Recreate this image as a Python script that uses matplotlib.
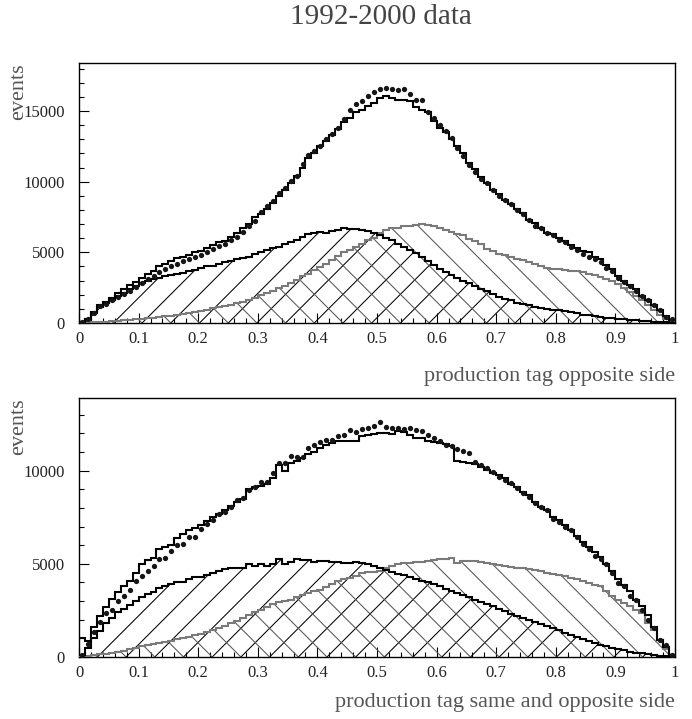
import numpy as np
import matplotlib
matplotlib.use("Agg")
import matplotlib.pyplot as plt
from matplotlib.collections import LineCollection
from matplotlib.ticker import MultipleLocator, FixedLocator, FixedFormatter

# ---------------- data (100 bins between 0 and 1) ----------------
bin_edges = np.linspace(0.0, 1.0, 101)

top_total = [50, 300, 800, 1300, 1500, 1800, 2100, 2400, 2700, 2900,
             3200, 3500, 3700, 4000, 4200, 4400, 4600, 4700, 4800, 5000,
             5100, 5300, 5500, 5700, 5800, 6100, 6400, 6700, 7000, 7500,
             7700, 8100, 8500, 9000, 9400, 9900, 10400, 11000, 11700, 12000,
             12500, 12900, 13300, 13700, 14200, 14500, 14900, 15100, 15350, 15600,
             15900, 16100, 15900, 15800, 15800, 15700, 15300, 15100, 14900, 14300,
             13800, 13500, 13000, 12500, 12000, 11300, 10900, 10300, 9900, 9400,
             9100, 8700, 8400, 8100, 7800, 7300, 7100, 6700, 6400, 6300,
             6000, 5800, 5550, 5300, 5100, 5000, 4700, 4500, 4100, 3800,
             3300, 3000, 2700, 2400, 1900, 1650, 1300, 950, 470, 200]

top_data = [60, 280, 700, 1180, 1370, 1600, 1840, 2050, 2300, 2550,
            2830, 3100, 3350, 3600, 3830, 4000, 4200, 4370, 4530, 4680,
            4840, 5000, 5240, 5430, 5620, 5900, 6100, 6420, 6900, 7200,
            7840, 8270, 8620, 9200, 9560, 10040, 10390, 11220, 11860, 12160,
            12500, 13040, 13350, 13820, 14450, 15070, 15470, 15700, 16060, 16350,
            16530, 16650, 16580, 16490, 16530, 16180, 15780, 15780, 14900, 14500,
            14000, 13600, 13100, 12400, 11800, 11200, 10700, 10200, 9900, 9400,
            9000, 8700, 8400, 8000, 7700, 7300, 6900, 6700, 6400, 6200,
            5900, 5700, 5400, 5200, 4900, 4700, 4500, 4300, 3900, 3700,
            3200, 2900, 2600, 2300, 1900, 1600, 1300, 900, 400, 250]

top_black = [50, 300, 700, 1100, 1400, 1650, 1900, 2150, 2400, 2600,
             2800, 2950, 3100, 3200, 3300, 3400, 3500, 3550, 3650, 3750,
             3900, 4000, 4050, 4150, 4300, 4400, 4500, 4600, 4700, 4900,
             5050, 5150, 5300, 5400, 5600, 5750, 5900, 6100, 6300, 6400,
             6450, 6350, 6500, 6600, 6700, 6650, 6680, 6600, 6500, 6350,
             6200, 6050, 5850, 5600, 5400, 5150, 4950, 4700, 4400, 4100,
             3850, 3600, 3400, 3200, 3000, 2800, 2600, 2400, 2250, 2050,
             1850, 1700, 1600, 1450, 1350, 1250, 1150, 1080, 1000, 950,
             900, 830, 760, 680, 600, 540, 480, 420, 370, 320,
             280, 250, 220, 190, 160, 130, 100, 80, 50, 30]

top_gray = [0, 20, 40, 60, 90, 120, 150, 180, 220, 260,
            300, 340, 380, 430, 480, 530, 590, 650, 720, 800,
            880, 950, 1030, 1110, 1200, 1300, 1400, 1500, 1620, 1750,
            1950, 2100, 2280, 2450, 2650, 2850, 3050, 3300, 3500, 3750,
            3950, 4200, 4450, 4750, 5000, 5200, 5400, 5600, 5850, 6050,
            6400, 6550, 6700, 6750, 6850, 6900, 6950, 7000, 6950, 6850,
            6750, 6600, 6450, 6300, 6200, 5950, 5800, 5600, 5250, 5100,
            4900, 4800, 4650, 4550, 4450, 4300, 4200, 4050, 3900, 3850,
            3800, 3750, 3700, 3650, 3600, 3500, 3400, 3250, 3100, 2950,
            2750, 2500, 2200, 1900, 1600, 1250, 950, 550, 300, 100]

bot_total = [1000, 850, 1600, 2200, 2700, 3100, 3500, 3800, 4100, 4500,
             5000, 5200, 5300, 5800, 5900, 6000, 6400, 6600, 6800, 6900,
             7100, 7300, 7500, 7700, 7900, 8100, 8300, 8500, 9000, 9100,
             9200, 9300, 9600, 10300, 10000, 10400, 10500, 10700, 10900, 11000,
             11200, 11400, 11500, 11600, 11600, 11600, 11600, 11850, 11900, 11950,
             12000, 12040, 11950, 12130, 12050, 11900, 11770, 11750, 11600, 11550,
             11500, 11450, 11350, 10500, 10450, 10400, 10350, 10200, 10050, 9900,
             9770, 9600, 9300, 9140, 8870, 8690, 8330, 8050, 7870, 7510,
             7330, 7060, 6790, 6520, 6150, 5880, 5610, 5340, 4980, 4620,
             4160, 3890, 3530, 3080, 2720, 2260, 1630, 900, 540, 90]

bot_data = [100, 700, 1360, 1900, 2350, 2530, 2990, 3260, 3620, 4070,
            4340, 4620, 4890, 5250, 5290, 5700, 6010, 6060, 6430, 6430,
            6880, 7150, 7330, 7690, 7780, 8050, 8420, 8510, 8960, 9140,
            9380, 9410, 9860, 10410, 10410, 10770, 10720, 10720, 11190, 11400,
            11550, 11620, 11670, 11860, 11910, 12160, 12100, 12220, 12300, 12400,
            12630, 12340, 12300, 12280, 12250, 12310, 12200, 12150, 11910, 11730,
            11580, 11400, 11300, 11150, 11050, 10950, 10450, 10320, 10170, 9950,
            9680, 9500, 9320, 9050, 8780, 8600, 8240, 8050, 7870, 7420,
            7240, 6970, 6790, 6430, 6060, 5790, 5430, 5250, 4980, 4530,
            3980, 3800, 3260, 3080, 2530, 1990, 1540, 900, 630, 90]

bot_black = [100, 500, 1000, 1400, 1800, 2100, 2400, 2600, 2800, 3000,
             3200, 3400, 3500, 3700, 3800, 3900, 4000, 4050, 4200, 4300,
             4300, 4400, 4500, 4600, 4700, 4750, 4800, 4800, 5000, 4900,
             5000, 4900, 5000, 5250, 5000, 5100, 5250, 5200, 5200, 5100,
             5150, 5150, 5100, 5100, 5050, 5050, 5100, 5030, 4980, 4890,
             4750, 4650, 4550, 4450, 4390, 4300, 4200, 4100, 4030, 3900,
             3800, 3670, 3550, 3420, 3320, 3200, 3080, 2960, 2840, 2720,
             2600, 2470, 2330, 2220, 2110, 2000, 1900, 1790, 1680, 1560,
             1430, 1300, 1180, 1060, 950, 850, 750, 660, 570, 490,
             420, 350, 290, 240, 190, 150, 110, 80, 50, 20]

bot_gray = [20, 60, 100, 140, 180, 220, 280, 340, 420, 500,
            580, 640, 700, 760, 820, 880, 950, 1030, 1100, 1170,
            1240, 1330, 1450, 1560, 1680, 1810, 1950, 2100, 2250, 2400,
            2530, 2680, 2820, 2930, 3000, 3080, 3200, 3320, 3440, 3530,
            3620, 3770, 3920, 4070, 4160, 4250, 4350, 4500, 4550, 4580,
            4600, 4750, 4900, 5000, 5030, 5060, 5100, 5110, 5160, 5200,
            5250, 5270, 5290, 5020, 5150, 5160, 5130, 5100, 5070, 5000,
            4950, 4900, 4850, 4800, 4750, 4700, 4650, 4590, 4530, 4480,
            4400, 4340, 4250, 4160, 4070, 3980, 3890, 3800, 3530, 3300,
            3080, 2900, 2720, 2530, 2350, 1810, 1450, 900, 450, 90]

x_tick_values = [0, 0.1, 0.2, 0.3, 0.4, 0.5, 0.6, 0.7, 0.8, 0.9, 1]
x_tick_labels = ["0", "0.1", "0.2", "0.3", "0.4", "0.5", "0.6", "0.7", "0.8", "0.9", "1"]
title_text = "1992-2000 data"
xlabels = ["production tag opposite side", "production tag same and opposite side"]
ylabel_text = "events"

# ---------------- figure ----------------
FW, FH, DPI = 692, 719, 100
fig = plt.figure(figsize=(FW / DPI, FH / DPI), dpi=DPI)
SERIF = ["Liberation Serif", "DejaVu Serif"]

GRAY_LINE = "#7a7a7a"
GRAY_HATCH = "#555555"
LABEL_GRAY = "#555555"

panels = [
    dict(rect=(79, 63, 675, 323), ymax=18400, yticks=[0, 5000, 10000, 15000],
         total=top_total, data=top_data, black=top_black, gray=top_gray,
         xlabel=xlabels[0], xlabel_y=376, phase=21.0),
    dict(rect=(79, 398, 675, 657), ymax=13900, yticks=[0, 5000, 10000],
         total=bot_total, data=bot_data, black=bot_black, gray=bot_gray,
         xlabel=xlabels[1], xlabel_y=703, phase=5.0),
]

HATCH_SPACING = 28.7  # px between hatch lines along the baseline


def add_hatch(ax, patch, direction, W, H, phase, color, lw):
    k = H / W
    step = HATCH_SPACING / W
    starts = np.arange(-2.0, 2.0, step) + phase / W
    if direction == "/":
        segs = [[(u, 0.0), (u + k, 1.0)] for u in starts]
    else:
        segs = [[(u, 0.0), (u - k, 1.0)] for u in starts]
    lc = LineCollection(segs, colors=color, linewidths=lw,
                        transform=ax.transAxes, zorder=2)
    lc.set_clip_path(patch)
    ax.add_collection(lc, autolim=False)


centers = 0.5 * (bin_edges[:-1] + bin_edges[1:])

for p in panels:
    x0, y0, x1, y1 = p["rect"]
    W, H = x1 - x0, y1 - y0
    ax = fig.add_axes([x0 / FW, 1 - y1 / FH, W / FW, H / FH])
    ax.set_xlim(0, 1)
    ax.set_ylim(0, p["ymax"])

    black = np.array(p["black"], float)
    gray = np.array(p["gray"], float)
    total = np.array(p["total"], float)
    data = np.array(p["data"], float)

    # clip shapes for hatching
    pb = ax.stairs(black, bin_edges, baseline=0, fill=True,
                   facecolor="none", edgecolor="none", linewidth=0)
    pg = ax.stairs(gray, bin_edges, baseline=0, fill=True,
                   facecolor="none", edgecolor="none", linewidth=0)
    add_hatch(ax, pb, "/", W, H, p["phase"], "black", 0.75)
    add_hatch(ax, pg, "\\", W, H, p["phase"], GRAY_HATCH, 0.75)

    ax.stairs(gray, bin_edges, baseline=None, color=GRAY_LINE, linewidth=1.5, zorder=3)
    ax.stairs(black, bin_edges, baseline=None, color="black", linewidth=1.5, zorder=4)
    ax.stairs(total, bin_edges, baseline=None, color="black", linewidth=1.5, zorder=5)
    ax.plot(centers, data, "o", ms=3.8, color="#151515", mec="none", zorder=6)

    # axes styling
    for s in ax.spines.values():
        s.set_linewidth(1.0)
        s.set_color("black")
    ax.xaxis.set_major_locator(FixedLocator(x_tick_values))
    ax.xaxis.set_major_formatter(FixedFormatter(x_tick_labels))
    ax.xaxis.set_minor_locator(MultipleLocator(0.02))
    ax.yaxis.set_major_locator(FixedLocator(p["yticks"]))
    ax.yaxis.set_minor_locator(MultipleLocator(1000))
    ax.tick_params(which="both", direction="in", top=False, right=False,
                   width=0.8, color="black")
    ax.tick_params(which="major", length=7.5)
    ax.tick_params(which="minor", length=3.8)
    ax.tick_params(axis="x", which="major", pad=6)
    ax.tick_params(axis="y", which="major", pad=10)
    for lab in ax.get_xticklabels() + ax.get_yticklabels():
        lab.set_fontfamily(SERIF)
        lab.set_fontsize(12)
        lab.set_color("#222222")

    fig.text(x1 / FW, 1 - p["xlabel_y"] / FH, p["xlabel"], ha="right", va="center",
             fontsize=16, family=SERIF, color=LABEL_GRAY)
    fig.text(19 / FW, 1 - y0 / FH, ylabel_text, rotation=90, ha="center", va="top",
             fontsize=16, family=SERIF, color=LABEL_GRAY)

fig.text(381 / FW, 1 - 17 / FH, title_text, ha="center", va="center",
         fontsize=21, family=SERIF, color="#444444")

fig.savefig("out.png", dpi=DPI)
